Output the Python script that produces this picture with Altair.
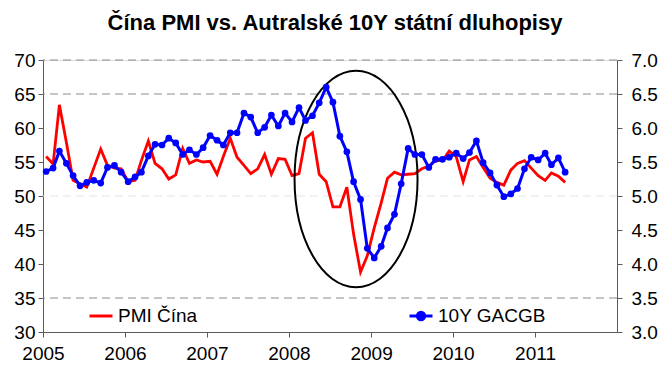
import altair as alt
import pandas as pd

# Monthly observations Jan 2005 - May 2011 (plotted mid-month)
months = [f"{2005 + i // 12}-{i % 12 + 1:02d}-15" for i in range(77)]

pmi_china = [
    55.8, 54.7, 63.4, 57.9, 52.3, 51.8, 51.3, 54.1, 56.9, 54.5, 54.1, 54.0,
    52.1, 52.3, 55.2, 58.1, 54.8, 54.0, 52.5, 53.1, 57.0, 54.8, 55.3, 55.0,
    55.1, 53.2, 55.8, 58.5, 55.7, 54.5, 53.3, 54.0, 56.1, 53.2, 55.5, 55.4,
    53.0, 53.3, 58.5, 59.3, 53.2, 52.1, 48.4, 48.4, 51.3, 44.4, 38.8, 41.2,
    45.3, 49.0, 52.6, 53.5, 53.1, 53.2, 53.3, 54.0, 54.4, 55.2, 55.2, 56.6,
    55.8, 52.1, 55.3, 55.8, 54.2, 52.6, 52.0, 51.6, 53.8, 54.8, 55.2, 54.1,
    53.0, 52.3, 53.4, 52.9, 52.0,
]

gacgb_10y = [
    5.36, 5.41, 5.66, 5.48, 5.30, 5.15, 5.20, 5.23, 5.19, 5.42, 5.45, 5.35,
    5.21, 5.28, 5.35, 5.59, 5.76, 5.75, 5.85, 5.78, 5.61, 5.68, 5.61, 5.71,
    5.89, 5.82, 5.75, 5.93, 5.93, 6.22, 6.16, 5.93, 6.01, 6.19, 6.03, 6.22,
    6.09, 6.30, 6.11, 6.18, 6.37, 6.60, 6.38, 5.88, 5.65, 5.21, 4.95, 4.23,
    4.09, 4.26, 4.53, 4.73, 5.18, 5.70, 5.61, 5.61, 5.42, 5.54, 5.54, 5.57,
    5.63, 5.55, 5.64, 5.81, 5.49, 5.34, 5.16, 4.99, 5.03, 5.11, 5.40, 5.57,
    5.53, 5.63, 5.46, 5.56, 5.35,
]

series_names = ["PMI Čína", "10Y GACGB"]
grid_dark = [70, 65, 35]
grid_light = [50]
left_ticks = [30, 35, 40, 45, 50, 55, 60, 65, 70]
right_ticks = [3.0, 3.5, 4.0, 4.5, 5.0, 5.5, 6.0, 6.5, 7.0]
year_ticks = [2005, 2006, 2007, 2008, 2009, 2010, 2011]

# annotation ellipse around the 2008/2009 episode (centre in data units)
ellipse_center_date = ["2008-10-26"]
ellipse_center_val = [52.5]

FONT = "Liberation Sans"
LABEL_SIZE = 19
RED = "#ff0000"
BLUE = "#0000ff"

df_pmi = pd.DataFrame({"date": months, "value": pmi_china, "series": series_names[0]})
df_bond = pd.DataFrame({"date": months, "value": gacgb_10y, "series": series_names[1]})
df_gd = pd.DataFrame({"y": grid_dark})
df_gl = pd.DataFrame({"y": grid_light})
df_ell = pd.DataFrame({"date": ellipse_center_date, "value": ellipse_center_val})

x_scale = alt.Scale(
    type="utc",
    domain=[alt.DateTime(year=2005, month=1, date=1, utc=True),
            alt.DateTime(year=2012, month=1, date=1, utc=True)],
    nice=False,
)
x_axis = alt.Axis(
    values=[alt.DateTime(year=y, month=1, date=1, utc=True) for y in year_ticks],
    format="%Y", title=None, grid=False, labelFlush=False,
    labelFont=FONT, labelFontSize=LABEL_SIZE, labelColor="#000000",
    domainColor="#5a5a5a", tickColor="#5a5a5a", tickSize=5, labelPadding=7,
)
y_left_scale = alt.Scale(domain=[30, 70], nice=False, zero=False)
y_left_axis = alt.Axis(
    values=left_ticks, title=None, grid=False, orient="left", labelFlush=False,
    labelOverlap=False,
    labelFont=FONT, labelFontSize=LABEL_SIZE, labelColor="#000000",
    domainColor="#5a5a5a", tickColor="#5a5a5a", tickSize=5, labelPadding=3,
)
y_right_scale = alt.Scale(domain=[3, 7], nice=False, zero=False)
y_right_axis = alt.Axis(
    values=right_ticks, format=".1f", title=None, grid=False, orient="right", labelFlush=False,
    labelOverlap=False,
    labelFont=FONT, labelFontSize=LABEL_SIZE, labelColor="#000000",
    domainColor="#5a5a5a", tickColor="#5a5a5a", tickSize=5, labelPadding=9,
)

grid1 = alt.Chart(df_gd).mark_rule(color="#8c8c8c", strokeDash=[8, 5], strokeWidth=1).encode(
    y=alt.Y("y:Q", scale=y_left_scale, axis=y_left_axis)
)
grid2 = alt.Chart(df_gl).mark_rule(color="#e4e4e4", strokeDash=[8, 5], strokeWidth=1).encode(
    y=alt.Y("y:Q", scale=y_left_scale, axis=y_left_axis)
)

red_line = alt.Chart(df_pmi).mark_line(strokeWidth=2.8).encode(
    x=alt.X("date:T", scale=x_scale, axis=x_axis),
    y=alt.Y("value:Q", scale=y_left_scale, axis=y_left_axis),
    color=alt.Color(
        "series:N",
        scale=alt.Scale(domain=[series_names[0]], range=[RED]),
        legend=alt.Legend(
            title=None, orient="none", legendX=45, legendY=243, padding=0,
            symbolType="stroke", symbolSize=529, symbolStrokeWidth=3,
            labelFont=FONT, labelFontSize=LABEL_SIZE, labelColor="#000000", labelOffset=4,
        ),
    ),
)

k = 0.5523
R = 1.76
ellipse_path = (
    f"M 1 0 C 1 {k*R:.4f} {k} {R} 0 {R} "
    f"C {-k} {R} -1 {k*R:.4f} -1 0 "
    f"C -1 {-k*R:.4f} {-k} {-R} 0 {-R} "
    f"C {k} {-R} 1 {-k*R:.4f} 1 0 Z"
)
ellipse = alt.Chart(df_ell).mark_point(
    shape=ellipse_path, size=15129, filled=False, stroke="#000000", strokeWidth=2, opacity=1
).encode(
    x=alt.X("date:T", scale=x_scale, axis=x_axis),
    y=alt.Y("value:Q", scale=y_left_scale, axis=y_left_axis),
)

left_layer = alt.layer(grid1, grid2, red_line, ellipse)

kd = 0.5523
r = 0.32
dot = (
    f"M {r} 0 C {r} {kd*r:.4f} {kd*r:.4f} {r} 0 {r} "
    f"C {-kd*r:.4f} {r} {-r} {kd*r:.4f} {-r} 0 "
    f"C {-r} {-kd*r:.4f} {-kd*r:.4f} {-r} 0 {-r} "
    f"C {kd*r:.4f} {-r} {r} {-kd*r:.4f} {r} 0 Z"
)
legend_blue_symbol = "M -1 0 L 1 0 " + dot

blue_line = alt.Chart(df_bond).mark_line(
    strokeWidth=3, point=alt.OverlayMarkDef(filled=True, size=45, color=BLUE)
).encode(
    x=alt.X("date:T", scale=x_scale, axis=x_axis),
    y=alt.Y("value:Q", scale=y_right_scale, axis=y_right_axis),
    color=alt.Color(
        "series:N",
        scale=alt.Scale(domain=[series_names[1]], range=[BLUE]),
        legend=alt.Legend(
            title=None, orient="none", legendX=365, legendY=243, padding=0,
            symbolType=legend_blue_symbol, symbolSize=529, symbolStrokeWidth=3,
            symbolFillColor=BLUE, symbolStrokeColor=BLUE,
            labelFont=FONT, labelFontSize=LABEL_SIZE, labelColor="#000000", labelOffset=4,
        ),
    ),
)

chart = alt.layer(left_layer, blue_line).resolve_scale(
    y="independent", color="independent"
).properties(
    width=574,
    height=272,
    title=alt.TitleParams(
        "Čína PMI vs. Autralské 10Y státní dluhopisy",
        font=FONT, fontSize=22, fontWeight="bold", color="#000000",
        anchor="middle", baseline="alphabetic", offset=24, dx=5, dy=25,
    ),
    autosize=alt.AutoSizeParams(type="none"),
    padding={"left": 43, "top": 60, "right": 53, "bottom": 44},
).configure_view(stroke=None).configure(background="#ffffff")

chart.save("out.html", embed_options={"renderer": "svg", "actions": False})
